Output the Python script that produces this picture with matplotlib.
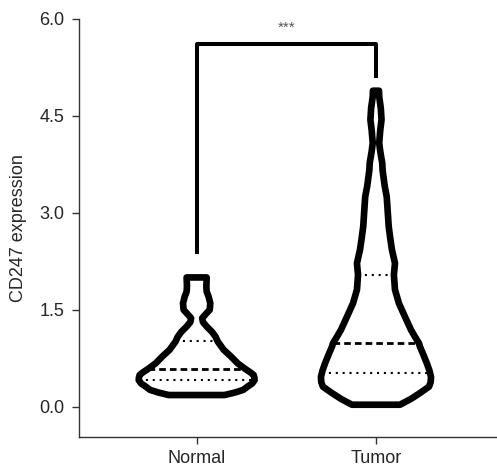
import numpy as np
import matplotlib.pyplot as plt

plt.rcParams["font.family"] = ["Liberation Sans", "DejaVu Sans"]

groups = ["Normal", "Tumor"]

# violin outlines: expression level and half-width (category units)
normal_y = [0.18, 0.22, 0.26, 0.31, 0.36, 0.41, 0.45, 0.49, 0.53, 0.58, 0.67,
            0.78, 0.88, 1.01, 1.08, 1.16, 1.24, 1.31, 1.37, 1.43, 1.50, 1.60,
            1.70, 1.78, 1.86, 2.00]
normal_half = [0.156, 0.215, 0.260, 0.284, 0.310, 0.323, 0.322, 0.318, 0.300,
               0.273, 0.229, 0.190, 0.151, 0.117, 0.106, 0.085, 0.056, 0.035,
               0.031, 0.050, 0.073, 0.076, 0.067, 0.056, 0.054, 0.056]

tumor_y = [0.03, 0.12, 0.21, 0.31, 0.38, 0.46, 0.56, 0.67, 0.80, 0.93, 0.98,
           1.08, 1.19, 1.39, 1.60, 1.81, 2.04, 2.22, 2.43, 2.60, 2.79, 3.00,
           3.25, 3.41, 3.66, 3.77, 3.95, 4.08, 4.28, 4.44, 4.62, 4.80, 4.89]
tumor_half = [0.134, 0.195, 0.245, 0.296, 0.305, 0.307, 0.298, 0.284, 0.265,
              0.245, 0.240, 0.218, 0.195, 0.162, 0.128, 0.106, 0.100, 0.106,
              0.089, 0.080, 0.071, 0.066, 0.060, 0.049, 0.037, 0.035, 0.024,
              0.018, 0.024, 0.031, 0.027, 0.018, 0.017]

# lower quartile, median, upper quartile
normal_quartiles = [0.41, 0.58, 1.01]
tumor_quartiles = [0.52, 0.98, 2.04]

yticks = [0.0, 1.5, 3.0, 4.5, 6.0]
bracket_y = 5.61
bracket_ends = [2.40, 5.12]
sig_label = "***"

text_color = "#262626"


def draw_violin(ax, pos, y, half, quartiles):
    y = np.asarray(y)
    half = np.asarray(half)
    xs = np.concatenate([pos - half, (pos + half)[::-1]])
    ys = np.concatenate([y, y[::-1]])
    ax.fill(xs, ys, facecolor="none", edgecolor="black", linewidth=4.8,
            joinstyle="round", zorder=3, clip_on=False)
    for i, q in enumerate(quartiles):
        w = np.interp(q, y, half)
        if i == 1:
            ax.plot([pos - w, pos + w], [q, q], color="black", linewidth=2.0,
                    linestyle=(0, (2.4, 1.45)), zorder=2)
        else:
            ax.plot([pos - w, pos + w], [q, q], color="black", linewidth=1.5,
                    linestyle=(0, (1, 2.3)), zorder=2)


fig = plt.figure(figsize=(4.97, 4.69), dpi=100)
ax = fig.add_axes([0.159, 0.069, 0.841, 0.8905])

draw_violin(ax, 0, normal_y, normal_half, normal_quartiles)
draw_violin(ax, 1, tumor_y, tumor_half, tumor_quartiles)

# significance bracket
ax.plot([0, 0, 1, 1], [bracket_ends[0], bracket_y, bracket_y, bracket_ends[1]],
        color="black", linewidth=2.9, solid_joinstyle="round", zorder=3)
ax.text(0.5, 5.86, sig_label, ha="center", va="center", fontsize=11,
        color="#555555")

ax.set_xlim(-0.656, 1.675)
ax.set_ylim(-0.464, 6.0)
ax.set_xticks([0, 1])
ax.set_xticklabels(groups)
ax.set_yticks(yticks)
ax.set_yticklabels([f"{t:.1f}" for t in yticks])
ax.set_ylabel("CD247 expression", fontsize=13, color=text_color, labelpad=9)

for side in ["top", "right"]:
    ax.spines[side].set_visible(False)
for side in ["left", "bottom"]:
    ax.spines[side].set_color("#333333")
    ax.spines[side].set_linewidth(1.0)
ax.tick_params(axis="both", length=5.3, width=1.0, color="#333333",
               labelsize=13, labelcolor=text_color)
ax.tick_params(axis="y", pad=5)
ax.tick_params(axis="x", pad=4)

fig.savefig("out.png", dpi=100)
